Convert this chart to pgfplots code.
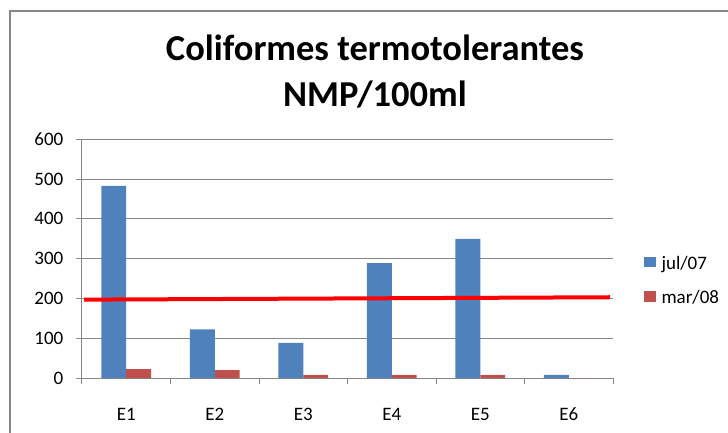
\documentclass[border=0pt]{standalone}
\usepackage{fontspec}
\setmainfont{Carlito}
\usepackage{pgfplots}
\pgfplotsset{compat=1.18}
\definecolor{serieA}{RGB}{79,129,189}
\definecolor{serieB}{RGB}{192,80,77}
\definecolor{gridgray}{RGB}{134,134,134}
\newcommand{\tfont}{\fontsize{19}{22}\selectfont}
\begin{document}
\begin{tikzpicture}
\path[use as bounding box] (-82pt,-54pt) rectangle (646pt,378pt);
% outer chart frame
\draw[gridgray, line width=1.8pt] (-72pt,-70pt) -- (-72pt,367pt) -- (700pt,367pt);
\begin{axis}[
  name=ax, at={(0pt,0pt)}, anchor=south west,
  scale only axis, width=531pt, height=238.7pt,
  xmin=-0.5, xmax=5.5, ymin=0, ymax=600,
  xtick={0,...,5}, xticklabels={E1,E2,E3,E4,E5,E6},
  minor xtick={-0.5,0.5,...,5.5},
  ytick={0,100,...,600},
  axis x line*=bottom, axis y line*=left,
  axis line style={gridgray, line width=1pt, -},
  ymajorgrids, grid style={gridgray, line width=1pt},
  tick align=outside,
  major tick length=5.7pt, minor tick length=5.7pt,
  major x tick style={draw=none},
  minor x tick style={gridgray, line width=1pt},
  y tick style={gridgray, line width=1pt},
  /pgf/number format/assume math mode=true,
  ticklabel style={font=\tfont},
  xticklabel style={anchor=base, yshift=-36.5pt},
  yticklabel style={xshift=-9.5pt},
  legend style={at={(1.0571,0.508)}, anchor=north west, draw=none, fill=none,
    font=\fontsize{19}{22}\selectfont, inner sep=0pt, row sep=18.7pt,
    nodes={inner sep=0pt, text height=10pt, text depth=3pt}},
  legend cell align=left,
  sq/.style={legend image code/.code={\fill[##1] (0pt,-1.5pt) rectangle (12pt,9pt); \path (18pt,0pt);}},
]
\addplot[ybar, bar width=0.28, bar shift=-0.14, fill=serieA, draw=none, sq]
  coordinates {(0,483) (1,122) (2,88) (3,289) (4,350) (5,8)};
\addplot[ybar, bar width=0.28, bar shift=0.14, fill=serieB, draw=none, sq]
  coordinates {(0,22.5) (1,20) (2,8) (3,8) (4,8) (5,0)};
\addplot[red, line width=4pt, forget plot]
  coordinates {(-0.477,197) (5.466,203)};
\legend{jul/07, mar/08}
\end{axis}
\node[anchor=base, font=\bfseries\fontsize{36.5}{42}\selectfont] at (293pt,317pt) {Coliformes termotolerantes};
\node[anchor=base, font=\bfseries\fontsize{36.5}{42}\selectfont] at (293pt,272pt) {NMP/100ml};
\end{tikzpicture}
\end{document}
